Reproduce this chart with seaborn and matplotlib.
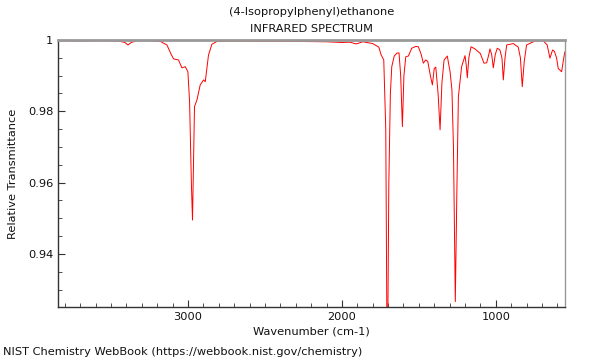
import numpy as np
import pandas as pd
import matplotlib
matplotlib.use("Agg")
import matplotlib.pyplot as plt
from matplotlib.ticker import MultipleLocator, FuncFormatter
import seaborn as sns

# ---------------------------------------------
# spectrum values
# ---------------------------------------------
wavenumber = [
    3845, 3700, 3550, 3450, 3410, 3390, 3370, 3330, 3250, 3180,
    3137, 3110, 3094, 3062, 3040, 3018, 3001, 2990, 2978, 2971,
    2958, 2942, 2921, 2899, 2888, 2867, 2845, 2812, 2700, 2500,
    2300, 2100, 2000, 1950, 1907, 1864, 1800, 1760, 1745, 1728,
    1715, 1705, 1695, 1685, 1676, 1660, 1643, 1629, 1618, 1607,
    1597, 1585, 1568, 1546, 1520, 1503, 1485, 1471, 1455, 1442,
    1425, 1412, 1400, 1390, 1375, 1362, 1350, 1336, 1315, 1305,
    1297, 1285, 1275, 1263, 1252, 1243, 1222, 1200, 1192, 1185,
    1175, 1161, 1135, 1114, 1100, 1077, 1059, 1045, 1038, 1027,
    1016, 1003, 990, 973, 960, 951, 940, 929, 886, 854,
    840, 828, 815, 800, 746, 692, 666, 648, 631, 619,
    605, 594, 572, 560, 551,
]
transmittance = [
    0.9998, 0.9997, 0.9998, 0.9997, 0.9993, 0.9986, 0.9993, 0.9998, 0.9998, 0.9996,
    0.9986, 0.9960, 0.9947, 0.9944, 0.9922, 0.9925, 0.9911, 0.9827, 0.9593, 0.9495,
    0.9813, 0.9832, 0.9874, 0.9888, 0.9883, 0.9958, 0.9988, 0.9996, 0.9997, 0.9996,
    0.9996, 0.9995, 0.9993, 0.9994, 0.9989, 0.9995, 0.9990, 0.9980, 0.9958, 0.9944,
    0.9750, 0.9000, 0.9600, 0.9850, 0.9925, 0.9955, 0.9963, 0.9964, 0.9900, 0.9757,
    0.9900, 0.9953, 0.9955, 0.9977, 0.9982, 0.9981, 0.9960, 0.9935, 0.9944, 0.9940,
    0.9900, 0.9874, 0.9920, 0.9924, 0.9850, 0.9748, 0.9880, 0.9944, 0.9955, 0.9930,
    0.9911, 0.9860, 0.9700, 0.9266, 0.9600, 0.9841, 0.9925, 0.9956, 0.9930, 0.9894,
    0.9950, 0.9981, 0.9975, 0.9967, 0.9962, 0.9935, 0.9936, 0.9960, 0.9975, 0.9960,
    0.9922, 0.9960, 0.9977, 0.9972, 0.9950, 0.9888, 0.9950, 0.9986, 0.9990, 0.9980,
    0.9950, 0.9869, 0.9940, 0.9986, 0.9997, 0.9998, 0.9986, 0.9949, 0.9972, 0.9968,
    0.9950, 0.9920, 0.9911, 0.9945, 0.9967,
]

df = pd.DataFrame({"wn": wavenumber, "T": transmittance})

sns.set_style("ticks")
plt.rcParams["font.family"] = ["DejaVu Sans"]
fs = 8.2
txt = "#111111"

fig = plt.figure(figsize=(6, 3.6), dpi=100)
ax = fig.add_axes([0.0967, 0.1472, 0.845, 0.7417])

sns.lineplot(data=df, x="wn", y="T", color="red", lw=0.7, estimator=None, ax=ax)

ax.set_xlim(3845, 550)
ax.set_ylim(0.9251, 1.0)

ax.xaxis.set_major_locator(MultipleLocator(1000))
ax.xaxis.set_minor_locator(MultipleLocator(100))
ax.yaxis.set_major_locator(MultipleLocator(0.02))
ax.yaxis.set_minor_locator(MultipleLocator(0.005))
ax.yaxis.set_major_formatter(FuncFormatter(lambda v, p: f"{v:g}"))

ax.tick_params(which="both", direction="in", labelsize=fs, color="#333333",
               labelcolor=txt, top=False, right=False)
ax.tick_params(which="major", length=5)
ax.tick_params(which="minor", length=3)

for side in ["top", "right"]:
    ax.spines[side].set_color("#999999")
    ax.spines[side].set_visible(True)
ax.spines["top"].set_linewidth(2)
ax.spines["right"].set_linewidth(1)
for side in ["left", "bottom"]:
    ax.spines[side].set_color("#333333")
    ax.spines[side].set_linewidth(1)

ax.set_xlabel("Wavenumber (cm-1)", fontsize=fs, labelpad=3, color=txt)
ax.set_ylabel("Relative Transmittance", fontsize=fs, labelpad=7, color=txt)

fig.text(0.519, 0.966, "(4-Isopropylphenyl)ethanone", ha="center", va="center",
         fontsize=fs, color=txt)
fig.text(0.519, 0.919, "INFRARED SPECTRUM", ha="center", va="center",
         fontsize=fs, color=txt)
fig.text(0.005, 0.022, "NIST Chemistry WebBook (https://webbook.nist.gov/chemistry)",
         ha="left", va="center", fontsize=fs, color=txt)

fig.savefig("out.png", dpi=100)
